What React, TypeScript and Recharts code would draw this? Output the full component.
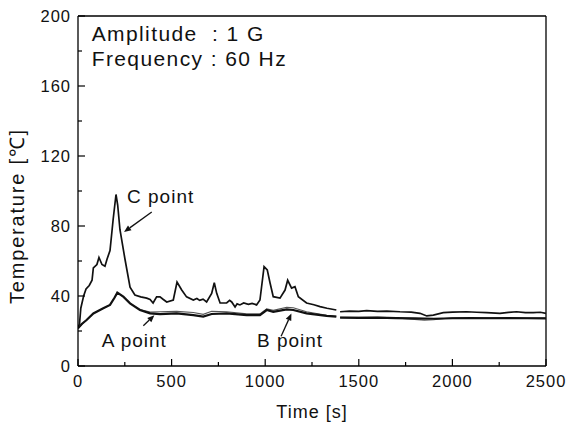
import React from 'react';
import { LineChart, Line, XAxis, YAxis, ReferenceLine, ReferenceDot } from 'recharts';

// ---- data ----
const C_TIME = [0, 8, 15, 30, 43, 60, 75, 82, 101, 112, 128, 144, 155, 171, 188, 203, 212, 224, 251, 278, 304, 335, 367, 385, 401, 420, 438, 456, 474, 509, 529, 554, 580, 616, 635, 650, 668, 687, 714, 728, 741, 759, 794, 810, 821, 839, 850, 865, 885, 910, 930, 954, 972, 994, 1011, 1026, 1043, 1079, 1106, 1120, 1141, 1159, 1177, 1221, 1260, 1293, 1330, 1380, 1390, 1400, 1450, 1500, 1542, 1600, 1650, 1720, 1780, 1827, 1863, 1898, 1951, 2000, 2076, 2130, 2183, 2254, 2300, 2343, 2390, 2432, 2470, 2500];
const C_TEMP = [22, 24, 33, 40, 44, 46, 49, 56, 58, 62, 58, 57, 61, 66, 84, 98, 92, 78, 61, 45, 40.6, 39.5, 38.8, 38, 36, 39.5, 39.5, 38, 36.6, 37.7, 48, 43.4, 39.5, 37.7, 38.6, 37.5, 38.2, 36.6, 41.5, 47.6, 41.5, 36, 36, 37.5, 36.6, 33.7, 35.5, 34.9, 36, 35.2, 35.8, 34.9, 37.7, 56.8, 54.9, 47.4, 39.6, 38.8, 43.4, 49, 44.5, 45.3, 39.6, 36, 35, 33.9, 33, 32, null, 31, 31.3, 31.2, 31.6, 31.2, 31.4, 31, 30.8, 30.1, 28.6, 29.1, 30.5, 30.8, 31, 30.7, 30.5, 30.1, 30.6, 31, 30.5, 30.5, 30.7, 30.1];

const A_TIME = [0, 20, 46, 82, 135, 171, 195, 210, 242, 278, 331, 385, 438, 527, 616, 669, 714, 794, 901, 972, 1008, 1043, 1115, 1150, 1221, 1328, 1380, 1390, 1400, 1500, 1600, 1700, 1800, 1900, 2000, 2100, 2200, 2300, 2400, 2500];
const A_TEMP = [21.5, 24, 26.3, 30, 33, 34.9, 39, 41.9, 39.6, 35.8, 32, 30.1, 29.7, 30.1, 29.1, 28.2, 29.7, 30.1, 29.1, 29.1, 32, 31, 32.4, 32, 30.1, 28.6, 28.2, null, 27.6, 27.5, 27.6, 27.4, 27.2, 27, 27.3, 27.4, 27.3, 27.4, 27.3, 27.2];

const B_TIME = [0, 46, 82, 135, 171, 210, 242, 278, 331, 385, 438, 527, 616, 669, 714, 794, 901, 972, 1008, 1043, 1115, 1150, 1221, 1328, 1380, 1390, 1400, 1500, 1600, 1700, 1780, 1850, 1900, 1960, 2000, 2100, 2200, 2300, 2400, 2500];
const B_TEMP = [21.5, 26.3, 30, 33, 34.9, 41.9, 39.6, 35.8, 32.2, 30.8, 31, 31.2, 30.6, 29.5, 31.3, 31, 29.8, 29.8, 32.6, 31.8, 33.6, 33.3, 31, 29, 28.4, null, 27.8, 27.8, 27.8, 27.5, 26.8, 26.2, 26.4, 27.1, 27.6, 27.6, 27.7, 27.5, 27.6, 27.4];

const X_TICKS = [0, 250, 500, 750, 1000, 1250, 1500, 1750, 2000, 2250, 2500];
const Y_TICKS = [0, 20, 40, 60, 80, 100, 120, 140, 160, 180, 200];

const NOTES = [
  { text: 'Amplitude  : 1 G', t: 73, v: 185.7, size: 21, ls: 1.4 },
  { text: 'Frequency : 60 Hz', t: 73, v: 171.4, size: 21, ls: 1.4 },
  { text: 'C point', t: 262, v: 93, size: 19, ls: 1 },
  { text: 'A point', t: 127, v: 11, size: 19, ls: 1 },
  { text: 'B point', t: 956, v: 11, size: 19, ls: 1 },
];
const ARROWS = [
  { from: [394, 88], to: [246, 76.6] },
  { from: [349, 23], to: [408, 29] },
  { from: [1085, 17], to: [1140, 30] },
];

const FONT = '"Liberation Sans", Arial, sans-serif';

const rows = (ts: number[], vs: (number | null)[]) => ts.map((t, i) => ({ t, v: vs[i] }));
const cRows = rows(C_TIME, C_TEMP);
const aRows = rows(A_TIME, A_TEMP);
const bRows = rows(B_TIME, B_TEMP);

const XTick = (p: any) => {
  const { x, y, payload } = p;
  const major = payload.value % 500 === 0;
  return (
    <g>
      <line x1={x} x2={x} y1={y} y2={y - (major ? 7 : 4)} stroke="#000" strokeWidth={1.2} />
      {major && (
        <text x={x} y={y + 21} textAnchor="middle" fontSize={16.5} letterSpacing={1} fontFamily={FONT} fill="#111">
          {payload.value}
        </text>
      )}
    </g>
  );
};

const YTick = (p: any) => {
  const { x, y, payload } = p;
  const major = payload.value % 40 === 0;
  return (
    <g>
      <line x1={x} x2={x + (major ? 7 : 4)} y1={y} y2={y} stroke="#000" strokeWidth={1.2} />
      {major && (
        <text x={x - 7} y={y + 6} textAnchor="end" fontSize={16.5} letterSpacing={1} fontFamily={FONT} fill="#111">
          {payload.value}
        </text>
      )}
    </g>
  );
};

const Arrow = (p: any) => {
  const { x1, y1, x2, y2 } = p;
  const ang = Math.atan2(y2 - y1, x2 - x1);
  const L = 7;
  const W = 3;
  const bx = x2 - L * Math.cos(ang);
  const by = y2 - L * Math.sin(ang);
  const px = -Math.sin(ang) * W;
  const py = Math.cos(ang) * W;
  return (
    <g>
      <line x1={x1} y1={y1} x2={bx} y2={by} stroke="#111" strokeWidth={1.3} />
      <polygon points={`${x2},${y2} ${bx + px},${by + py} ${bx - px},${by - py}`} fill="#111" />
    </g>
  );
};

export default function App() {
  return (
    <div style={{ position: 'absolute', left: 0, top: 0, width: 569, height: 428, background: '#fff' }}>
      <LineChart width={569} height={428} margin={{ top: 16, right: 23, left: 0, bottom: 0 }}>
        <XAxis
          type="number"
          dataKey="t"
          domain={[0, 2500]}
          ticks={X_TICKS}
          interval={0}
          tickSize={0}
          tickMargin={0}
          tick={<XTick />}
          height={62}
          axisLine={{ stroke: '#000', strokeWidth: 1.3 }}
          allowDataOverflow
          label={{
            value: 'Time [s]',
            position: 'insideBottom',
            offset: 10,
            fontSize: 18,
            fontFamily: FONT,
            fill: '#111',
            letterSpacing: 1,
          }}
        />
        <YAxis
          type="number"
          domain={[0, 200]}
          ticks={Y_TICKS}
          interval={0}
          tickSize={0}
          tickMargin={0}
          tick={<YTick />}
          width={78}
          axisLine={{ stroke: '#000', strokeWidth: 1.3 }}
          allowDataOverflow
          label={{
            content: () => (
              <text
                x={24}
                y={216}
                transform="rotate(-90 24 216)"
                textAnchor="middle"
                fontSize={20}
                letterSpacing={1.8}
                fontFamily={FONT}
                fill="#111"
              >
                Temperature [℃]
              </text>
            ),
          }}
        />
        <ReferenceLine y={200} stroke="#000" strokeWidth={1.3} />
        <ReferenceLine x={2500} stroke="#000" strokeWidth={1.3} />
        <Line data={bRows} dataKey="v" type="linear" stroke="#555" strokeWidth={1.1} dot={false} isAnimationActive={false} connectNulls={false} />
        <Line data={aRows} dataKey="v" type="linear" stroke="#111" strokeWidth={2.2} dot={false} isAnimationActive={false} connectNulls={false} />
        <Line data={cRows} dataKey="v" type="linear" stroke="#111" strokeWidth={1.7} dot={false} isAnimationActive={false} connectNulls={false} />
        {ARROWS.map((a, i) => (
          <ReferenceLine
            key={'ar' + i}
            segment={[{ x: a.from[0], y: a.from[1] }, { x: a.to[0], y: a.to[1] }]}
            shape={(p: any) => <Arrow {...p} />}
          />
        ))}
        {NOTES.map((n, i) => (
          <ReferenceDot
            key={'n' + i}
            x={n.t}
            y={n.v}
            r={0}
            shape={(p: any) => (
              <text
                x={p.cx}
                y={p.cy}
                fontSize={n.size}
                letterSpacing={n.ls}
                fontFamily={FONT}
                fill="#111"
                style={{ whiteSpace: 'pre' }}
              >
                {n.text}
              </text>
            )}
          />
        ))}
      </LineChart>
    </div>
  );
}
